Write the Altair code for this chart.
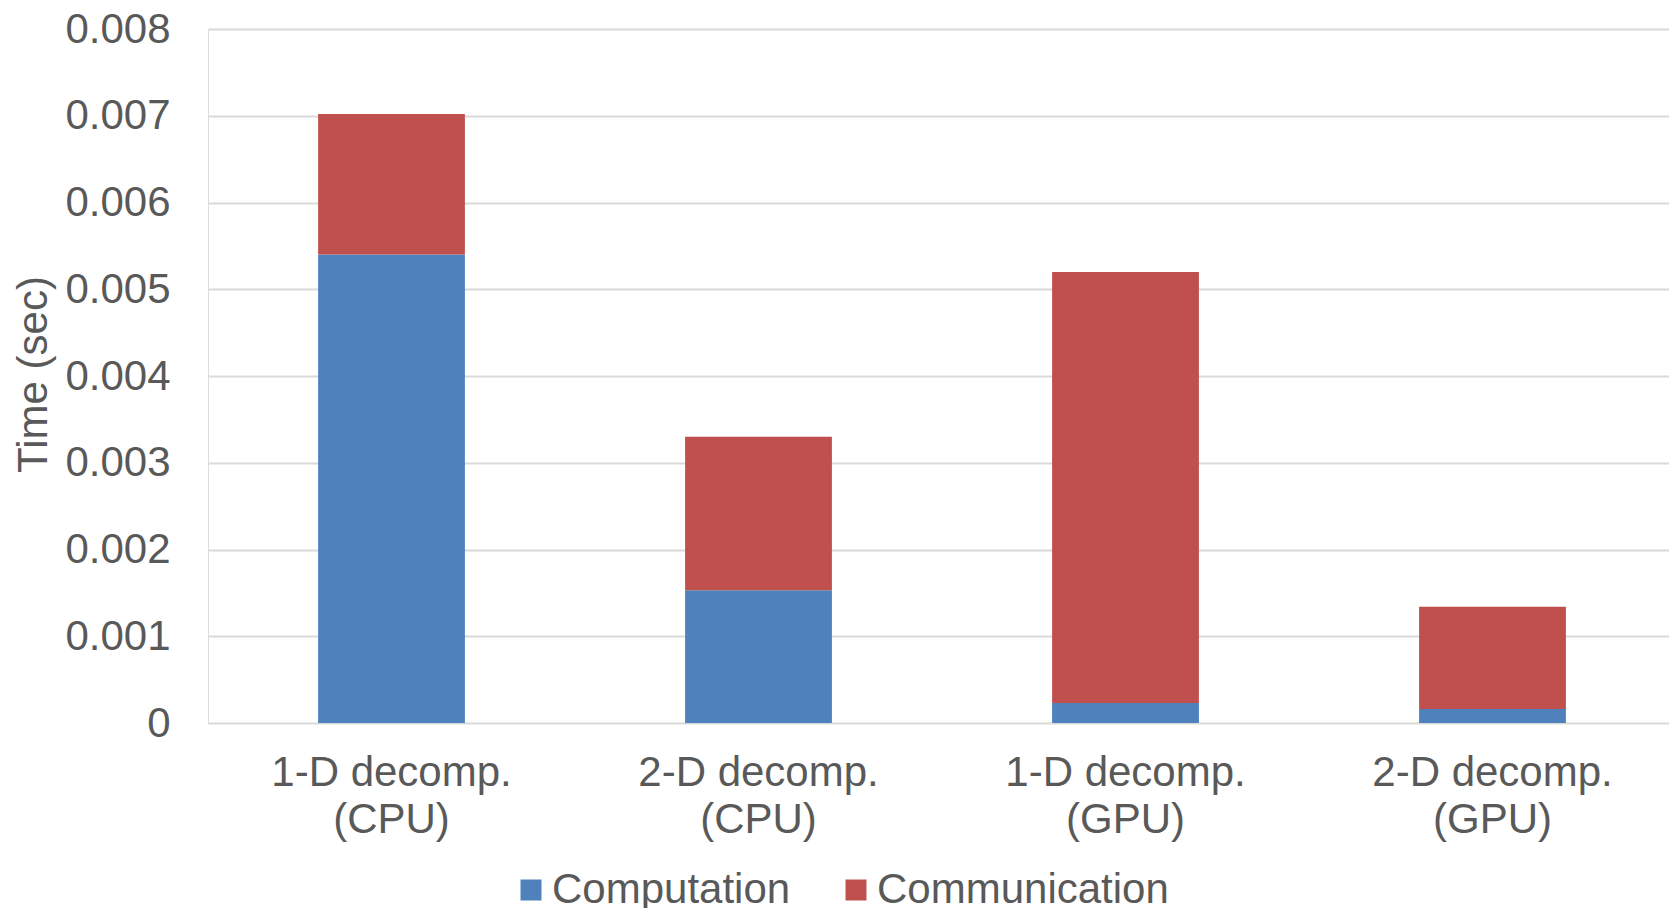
import altair as alt
import pandas as pd

categories = ["1-D decomp. (CPU)", "2-D decomp. (CPU)", "1-D decomp. (GPU)", "2-D decomp. (GPU)"]
series = ["Computation", "Communication"]
computation = [0.00540, 0.00153, 0.00023, 0.00016]
communication = [0.00162, 0.00177, 0.00497, 0.00118]
y_ticks = [0, 0.001, 0.002, 0.003, 0.004, 0.005, 0.006, 0.007, 0.008]
colors = ["#4F81BD", "#C0504D"]

rows = []
for i, c in enumerate(categories):
    rows.append({"category": c, "series": series[0], "value": computation[i], "stack_order": 0})
    rows.append({"category": c, "series": series[1], "value": communication[i], "stack_order": 1})
df = pd.DataFrame(rows)

FONT = "Liberation Sans"
GREY = "#595959"

chart = alt.Chart(df).mark_bar().encode(
    x=alt.X(
        "category:N",
        sort=categories,
        scale=alt.Scale(paddingInner=0.6, paddingOuter=0.3),
        axis=alt.Axis(
            title=None,
            labelAngle=0,
            labelFont=FONT,
            labelFontSize=42,
            labelColor=GREY,
            labelPadding=29,
            labelLineHeight=47,
            labelLimit=0,
            labelExpr="[slice(datum.label, 0, indexof(datum.label, ' (')), slice(datum.label, indexof(datum.label, ' (') + 1)]",
            ticks=False,
            tickSize=0,
            domain=False,
            grid=False,
        ),
    ),
    y=alt.Y(
        "value:Q",
        stack="zero",
        scale=alt.Scale(domain=[0, 0.008], nice=False),
        axis=alt.Axis(
            title="Time (sec)",
            titleFont=FONT,
            titleFontSize=42,
            titleFontWeight="normal",
            titleColor=GREY,
            titleAngle=-90,
            titleBaseline="alphabetic",
            titleAlign="center",
            titleX=-162,
            titleY=345,
            values=y_ticks,
            labelExpr="datum.value == 0 ? '0' : format(datum.value, '.3f')",
            labelFont=FONT,
            labelFontSize=42,
            labelColor=GREY,
            labelPadding=38,
            ticks=False,
            tickSize=0,
            domain=False,
            grid=True,
            gridColor="#d9d9d9",
            gridWidth=2,
        ),
    ),
    color=alt.Color(
        "series:N",
        scale=alt.Scale(domain=series, range=colors),
        legend=alt.Legend(
            title=None,
            orient="none",
            direction="horizontal",
            legendX=302,
            legendY=840,
            symbolType="square",
            symbolSize=441,
            symbolStrokeWidth=0,
            labelFont=FONT,
            labelFontSize=42,
            labelColor=GREY,
            labelOffset=0,
            labelLimit=0,
            columnPadding=44,
            padding=0,
        ),
    ),
    order=alt.Order("stack_order:Q"),
).properties(
    width=1468,
    height=694,
    autosize=alt.AutoSizeParams(type="none"),
    padding={"left": 200, "top": 21, "right": -7, "bottom": 185},
).configure_view(stroke=None).configure(background="white")

chart.save("out.html", embed_options={"renderer": "svg", "actions": False})
